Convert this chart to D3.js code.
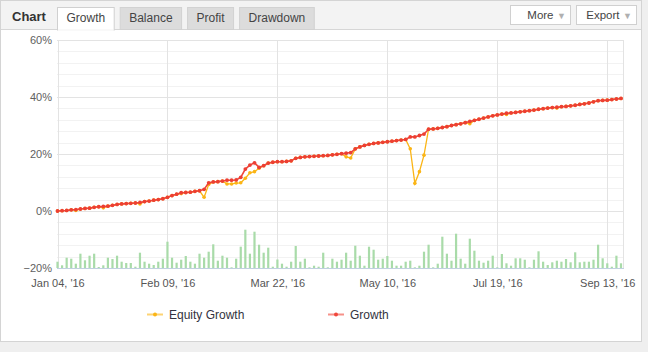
<!DOCTYPE html>
<html>
<head>
<meta charset="utf-8">
<script src="https://d3js.org/d3.v7.min.js"></script>
<style>
  body { margin: 0; background: #efefef; }
  text { font-family: "Liberation Sans", Arial, sans-serif; }
</style>
</head>
<body>
<div id="chart"></div>
<script>
// Daten: Reiter, Achsenbeschriftungen und die Werte der beiden Kurven + Balken
const tabs = ["Growth", "Balance", "Profit", "Drawdown"];
const buttons = ["More", "Export"];
const xTickIndex = [0, 24, 48, 72, 96, 120];
const xTickLabels = ["Jan 04, '16", "Feb 09, '16", "Mar 22, '16", "May 10, '16", "Jul 19, '16", "Sep 13, '16"];
const yTicks = [-20, 0, 20, 40, 60];

// Growth in %
const growth = [
  0.0, 0.1, 0.2, 0.4, 0.5, 0.7, 0.9, 1.0, 1.3, 1.5,
  1.6, 1.7, 2.0, 2.3, 2.5, 2.6, 2.7, 2.8, 3.0, 3.3,
  3.5, 3.8, 4.0, 4.3, 4.8, 5.4, 5.9, 6.4, 6.5, 6.6,
  6.9, 7.1, 7.6, 9.9, 10.2, 10.3, 10.5, 10.8, 10.8, 10.9,
  11.8, 14.7, 16.1, 16.9, 15.3, 15.9, 16.8, 17.1, 17.3, 17.3,
  17.4, 17.6, 18.5, 18.8, 19.0, 19.1, 19.2, 19.3, 19.4, 19.5,
  19.7, 19.9, 20.1, 20.3, 20.5, 21.8, 22.5, 23.0, 23.4, 23.7,
  23.9, 24.1, 24.3, 24.5, 24.7, 24.9, 25.1, 26.0, 26.0, 26.5,
  27.0, 28.7, 28.8, 29.0, 29.3, 29.6, 30.0, 30.3, 30.6, 31.0,
  31.4, 31.8, 32.2, 32.6, 33.0, 33.4, 33.7, 34.0, 34.3, 34.4,
  34.6, 34.8, 35.0, 35.2, 35.4, 35.7, 35.9, 36.1, 36.3, 36.4,
  36.6, 36.7, 36.9, 37.1, 37.4, 37.6, 37.9, 38.3, 38.7, 38.8,
  38.9, 39.1, 39.3, 39.5
];

// Equity Growth in %
const equity = [
  0.0, 0.1, 0.2, 0.4, 0.2, 0.7, 0.9, 1.0, 1.3, 1.5,
  1.1, 1.7, 2.0, 2.3, 2.5, 2.6, 2.7, 2.8, 2.5, 3.3,
  3.5, 3.8, 4.0, 4.3, 4.8, 5.4, 5.9, 6.1, 6.5, 6.6,
  6.9, 7.1, 4.8, 9.3, 10.2, 10.3, 10.5, 9.5, 9.5, 9.8,
  9.9, 11.5, 13.4, 13.8, 15.0, 15.9, 16.8, 17.1, 17.3, 17.3,
  17.4, 17.6, 18.5, 18.8, 19.0, 19.1, 19.2, 19.3, 19.4, 19.5,
  19.7, 19.9, 20.1, 19.0, 18.6, 21.8, 22.5, 23.0, 23.4, 23.7,
  23.9, 24.1, 24.3, 24.5, 24.7, 24.9, 25.1, 21.8, 9.7, 13.8,
  19.6, 28.7, 28.8, 29.0, 29.3, 29.6, 30.0, 30.3, 30.6, 31.0,
  30.6, 31.8, 32.2, 32.6, 33.0, 33.4, 33.7, 34.0, 33.9, 34.4,
  34.6, 34.8, 35.0, 35.2, 35.4, 35.7, 35.9, 36.1, 36.3, 36.1,
  36.6, 36.7, 36.9, 37.1, 37.4, 37.6, 37.9, 38.3, 38.7, 38.8,
  38.9, 39.1, 39.3, 39.5
];

// Balken (relative Höhe)
const bars = [
  6.3, 2.7, 10.3, 9.3, 4.3, 14.3, 7.7, 12.3, 14.3, 1.0,
  2.7, 10.3, 9.0, 12.3, 6.3, 5.0, 5.0, 1.3, 15.3, 6.3,
  4.3, 3.0, 6.3, 9.3, 26.3, 10.3, 5.3, 8.3, 12.0, 6.3,
  4.3, 14.3, 10.3, 16.3, 23.7, 7.3, 12.3, 10.3, 0.7, 9.3,
  21.3, 38.3, 14.3, 36.3, 23.3, 15.3, 20.3, 1.3, 8.5, 4.3,
  1.3, 6.3, 22.0, 6.3, 9.3, 0.7, 2.3, 1.3, 15.3, 0.7,
  9.3, 6.3, 8.3, 15.3, 7.3, 22.3, 12.3, 2.3, 21.3, 18.3,
  8.3, 9.3, 12.0, 7.3, 2.3, 2.3, 6.3, 7.3, 0.7, 2.3,
  16.3, 23.3, 0.7, 4.3, 31.3, 14.3, 7.3, 34.3, 9.3, 4.3,
  29.3, 17.3, 7.3, 5.3, 7.3, 12.3, 0.7, 14.0, 4.7, 2.3,
  9.7, 9.7, 8.3, 0.7, 8.3, 16.7, 6.3, 3.0, 5.7, 7.3,
  6.3, 9.0, 5.7, 15.7, 5.7, 6.3, 6.3, 8.3, 23.3, 9.7,
  4.7, 1.3, 12.3, 4.7
];

const width = 648;
const height = 352;
const plot = {left: 57, right: 623, top: 40, bottom: 268};

const svg = d3.select("#chart")
  .append("svg")
  .attr("width", width)
  .attr("height", height)
  .attr("viewBox", `0 0 ${width} ${height}`);

// Rahmen + Kopfzeile
svg.append("rect")
  .attr("x", 0.5).attr("y", 0.5)
  .attr("width", 641).attr("height", 341)
  .attr("fill", "#fff").attr("stroke", "#d4d4d4");
svg.append("rect")
  .attr("x", 1).attr("y", 1)
  .attr("width", 640).attr("height", 28.5)
  .attr("fill", "#f3f3f3");
svg.append("line")
  .attr("x1", 1).attr("x2", 641)
  .attr("y1", 29.5).attr("y2", 29.5)
  .attr("stroke", "#d6d6d6");

svg.append("text")
  .text("Chart")
  .attr("x", 12).attr("y", 21)
  .attr("font-size", 13).attr("font-weight", "bold")
  .attr("fill", "#333");

// Reiter
let tabX = 57.5;
tabs.forEach((t, i) => {
  const g = svg.append("g");
  const rect = g.append("rect");
  const label = g.append("text")
    .text(t)
    .attr("font-size", 12)
    .attr("fill", "#444")
    .attr("y", 22);
  const w = label.node().getComputedTextLength() + 18;
  label.attr("x", tabX + 9);
  rect.attr("x", tabX).attr("y", 7.5)
    .attr("width", w).attr("height", i === 0 ? 22.5 : 22)
    .attr("fill", i === 0 ? "#fff" : "#dcdcdc")
    .attr("stroke", i === 0 ? "#d0d0d0" : "#d2d2d2");
  if (i === 0) {
    g.append("line")
      .attr("x1", tabX + 0.5).attr("x2", tabX + w - 0.5)
      .attr("y1", 30).attr("y2", 30)
      .attr("stroke", "#fff").attr("stroke-width", 1.5);
  }
  tabX += w + 6;
});

// Buttons rechts
const buttonX = [510.5, 576.5];
buttons.forEach((b, i) => {
  svg.append("rect")
    .attr("x", buttonX[i]).attr("y", 5.5)
    .attr("width", 60).attr("height", 19)
    .attr("fill", "#fff").attr("stroke", "#d0d0d0");
  svg.append("text")
    .text(b)
    .attr("x", buttonX[i] + 43).attr("y", 19)
    .attr("text-anchor", "end")
    .attr("font-size", 11.5).attr("fill", "#444");
  svg.append("text")
    .text("▼")
    .attr("x", buttonX[i] + 51).attr("y", 18.5)
    .attr("text-anchor", "middle")
    .attr("font-size", 9).attr("fill", "#b0b0b0");
});

// Skalen
const xScale = d3.scaleLinear()
  .domain([0, growth.length - 1])
  .range([57.5, 621]);
const yScale = d3.scaleLinear()
  .domain([-20, 60])
  .range([plot.bottom, plot.top]);
const barScale = d3.scaleLinear()
  .domain([0, 40])
  .range([plot.bottom, plot.bottom - 40]);

const innerChart = svg.append("g");

// Gitternetz: feine Linien alle 4 %, kräftigere bei den Ticks
innerChart.append("g")
  .selectAll("line")
  .data(d3.range(-20, 61, 4))
  .join("line")
  .attr("x1", plot.left).attr("x2", plot.right)
  .attr("y1", d => Math.round(yScale(d)) + 0.5)
  .attr("y2", d => Math.round(yScale(d)) + 0.5)
  .attr("stroke", "#f2f2f2");
innerChart.append("g")
  .selectAll("line")
  .data(yTicks)
  .join("line")
  .attr("x1", plot.left).attr("x2", plot.right)
  .attr("y1", d => Math.round(yScale(d)) + 0.5)
  .attr("y2", d => Math.round(yScale(d)) + 0.5)
  .attr("stroke", "#e3e3e3");
innerChart.append("g")
  .selectAll("line")
  .data(xTickIndex)
  .join("line")
  .attr("x1", d => Math.round(xScale(d)) + 0.5)
  .attr("x2", d => Math.round(xScale(d)) + 0.5)
  .attr("y1", plot.top).attr("y2", plot.bottom)
  .attr("stroke", "#e3e3e3");
innerChart.append("line")
  .attr("x1", plot.right + 0.5).attr("x2", plot.right + 0.5)
  .attr("y1", plot.top).attr("y2", plot.bottom)
  .attr("stroke", "#e3e3e3");

// Balken
innerChart.append("g")
  .selectAll("rect")
  .data(bars)
  .join("rect")
  .attr("x", (d, i) => xScale(i) - 1.1)
  .attr("width", 2.2)
  .attr("y", d => barScale(d))
  .attr("height", d => barScale(0) - barScale(d))
  .attr("fill", "#a9dba9");

// Achsen
const leftAxis = d3.axisLeft(yScale)
  .tickValues(yTicks)
  .tickSize(0)
  .tickPadding(0)
  .tickFormat(d => (d < 0 ? "\u2212" : "") + Math.abs(d) + "%");
const yAxis = innerChart.append("g")
  .attr("transform", "translate(52, 0)")
  .call(leftAxis);
yAxis.select(".domain").remove();
yAxis.selectAll("text")
  .attr("font-size", 11)
  .attr("font-family", "Liberation Sans, Arial, sans-serif")
  .attr("fill", "#606060");

const bottomAxis = d3.axisBottom(xScale)
  .tickValues(xTickIndex)
  .tickSize(0)
  .tickPadding(11)
  .tickFormat((d, i) => xTickLabels[i]);
const xAxis = innerChart.append("g")
  .attr("transform", `translate(0, ${plot.bottom})`)
  .call(bottomAxis);
xAxis.select(".domain").remove();
xAxis.selectAll("text")
  .attr("font-size", 11)
  .attr("font-family", "Liberation Sans, Arial, sans-serif")
  .attr("fill", "#555");
innerChart.append("line")
  .attr("x1", plot.left).attr("x2", plot.right + 1)
  .attr("y1", plot.bottom + 0.5).attr("y2", plot.bottom + 0.5)
  .attr("stroke", "#c0d0e0");

// Kurven
const equityColor = "#fbb516";
const growthColor = "#f0473b";
const lineGenerator = d3.line()
  .x((d, i) => xScale(i))
  .y(d => yScale(d));

innerChart.append("path")
  .attr("d", lineGenerator(equity))
  .attr("fill", "none")
  .attr("stroke", equityColor)
  .attr("stroke-width", 1.3);
innerChart.append("g")
  .selectAll("circle")
  .data(equity)
  .join("circle")
  .attr("cx", (d, i) => xScale(i))
  .attr("cy", d => yScale(d))
  .attr("r", 1.8)
  .attr("fill", equityColor);

innerChart.append("path")
  .attr("d", lineGenerator(growth))
  .attr("fill", "none")
  .attr("stroke", growthColor)
  .attr("stroke-width", 1.6);
innerChart.append("g")
  .selectAll("circle")
  .data(growth)
  .join("circle")
  .attr("cx", (d, i) => xScale(i))
  .attr("cy", d => yScale(d))
  .attr("r", 1.9)
  .attr("fill", "#ec3f33");

// Legende
const legendItems = [
  {name: "Equity Growth", color: equityColor, x: 147},
  {name: "Growth", color: growthColor, x: 328}
];
const legend = svg.append("g");
legendItems.forEach(item => {
  legend.append("line")
    .attr("x1", item.x).attr("x2", item.x + 16)
    .attr("y1", 314.5).attr("y2", 314.5)
    .attr("stroke", item.color)
    .attr("stroke-opacity", 0.6)
    .attr("stroke-width", 2);
  legend.append("circle")
    .attr("cx", item.x + 8).attr("cy", 314.5)
    .attr("r", 2)
    .attr("fill", item.color);
  legend.append("text")
    .text(item.name)
    .attr("x", item.x + 22).attr("y", 318.5)
    .attr("font-size", 12)
    .attr("fill", "#333340");
});
</script>
</body>
</html>
